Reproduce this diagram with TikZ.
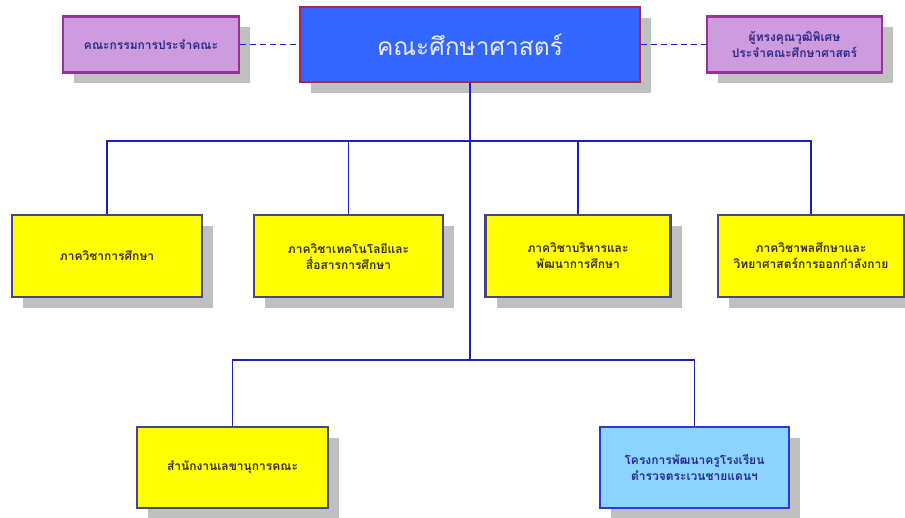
\documentclass[tikz,border=0pt]{standalone}
\usepackage{fontspec}
\newfontfamily\thaifont[Script=Thai]{Loma}
\usetikzlibrary{shadows}
\definecolor{mainfill}{RGB}{51,102,255}
\definecolor{mainborder}{RGB}{180,32,84}
\definecolor{purfill}{RGB}{206,156,222}
\definecolor{purborder}{RGB}{150,50,150}
\definecolor{purtext}{RGB}{40,40,140}
\definecolor{yelborder}{RGB}{70,70,130}
\definecolor{yelfill}{RGB}{255,255,0}
\definecolor{yeltext}{RGB}{55,45,35}
\definecolor{lbfill}{RGB}{140,212,255}
\definecolor{lbborder}{RGB}{40,60,220}
\definecolor{linecol}{RGB}{30,30,200}
\definecolor{shadowgray}{RGB}{192,192,192}
\tikzset{
  sbox/.style={draw, line width=2.5pt, align=center, inner sep=2pt,
    font=\thaifont\bfseries\fontsize{12}{16}\selectfont,
    drop shadow={shadow xshift=11pt, shadow yshift=-11pt, fill=shadowgray, opacity=1}},
  mainbox/.style={sbox, fill=mainfill, draw=mainborder, text=white!92!blue,
    font=\thaifont\fontsize{24.5}{28}\selectfont},
  purbox/.style={sbox, fill=purfill, draw=purborder, text=purtext},
  yelbox/.style={sbox, fill=yelfill, draw=yelborder, text=yeltext},
  lbbox/.style={sbox, fill=lbfill, draw=lbborder, text=purtext},
  conn/.style={draw=linecol, line width=1.7pt},
  dconn/.style={draw=linecol, line width=1.6pt, dash pattern=on 6pt off 4pt}
}
\begin{document}
\begin{tikzpicture}[x=1pt,y=-1pt]
\useasboundingbox[fill=white] (0,0) rectangle (905,518);
\coordinate (j1) at (470,141);
\coordinate (j2) at (470,360);
\node[mainbox, minimum width=340pt, minimum height=75pt] (main) at (470,44.5) {คณะศึกษาศาสตร์};
\node[purbox, minimum width=176pt, minimum height=56pt] (lp) at (151,44.5) {คณะกรรมการประจำคณะ};
\node[purbox, minimum width=175pt, minimum height=56pt] (rp) at (794.5,44.5) {ผู้ทรงคุณวุฒิพิเศษ\\ประจำคณะศึกษาศาสตร์};
\node[yelbox, minimum width=190pt, minimum height=82pt] (b1) at (107,256) {ภาควิชาการศึกษา};
\node[yelbox, minimum width=189pt, minimum height=82pt] (b2) at (348.5,256) {ภาควิชาเทคโนโลยีและ\\สื่อสารการศึกษา};
\node[yelbox, minimum width=185pt, minimum height=82pt] (b3) at (578,256) {ภาควิชาบริหารและ\\พัฒนาการศึกษา};
\node[yelbox, minimum width=186pt, minimum height=82pt] (b4) at (811,256) {ภาควิชาพลศึกษาและ\\วิทยาศาสตร์การออกกำลังกาย};
\node[yelbox, minimum width=191pt, minimum height=81pt] (b5) at (232.5,467.5) {สำนักงานเลขานุการคณะ};
\node[lbbox, minimum width=189pt, minimum height=81pt] (b6) at (694.5,467.5) {โครงการพัฒนาครูโรงเรียน\\ตำรวจตระเวนชายแดนฯ};
\draw[conn] (main.south) -- (j2);
\draw[conn] (b1.north) |- (j1);
\draw[conn] (b2.north) |- (j1);
\draw[conn] (b3.north) |- (j1);
\draw[conn] (b4.north) |- (j1);
\draw[conn] (b5.north) |- (j2);
\draw[conn] (b6.north) |- (j2);
\draw[dconn] (lp.east) -- (main.west);
\draw[dconn] (main.east) -- (rp.west);
\end{tikzpicture}
\end{document}
